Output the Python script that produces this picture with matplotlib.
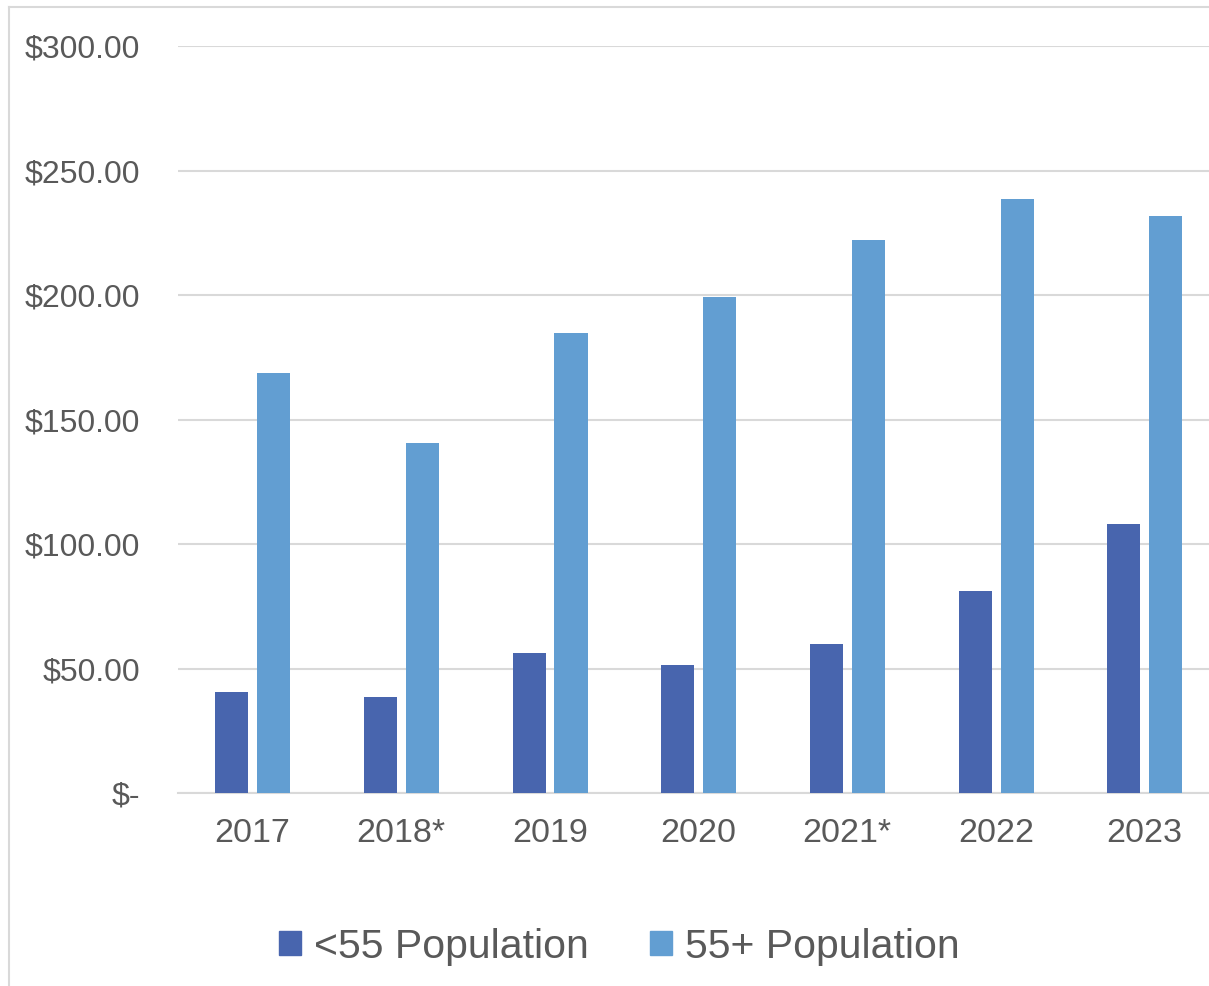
import matplotlib.pyplot as plt
import matplotlib.patches
import matplotlib.lines
import numpy as np

years = ['2017', '2018*', '2019', '2020', '2021*', '2022', '2023']
under_55 = [40.6, 38.6, 56.2, 51.4, 59.8, 81.1, 108.0]
over_55 = [168.7, 140.6, 184.7, 199.2, 222.1, 238.6, 231.7]
y_ticks = [0, 50, 100, 150, 200, 250, 300]
y_labels = ['$-', '$50.00', '$100.00', '$150.00', '$200.00', '$250.00', '$300.00']
series_names = ['<55 Population', '55+ Population']

dark = '#4865AE'
light = '#629ED2'
grid_col = '#D9D9D9'
text_col = '#595959'

plt.rcParams['font.family'] = ['Liberation Sans', 'DejaVu Sans']

fig = plt.figure(figsize=(12.09, 9.86), dpi=100)
ax = fig.add_axes([0.1472, 0.1957, 0.861, 0.7576])

x = np.arange(len(years))
w = 0.222
ax.bar(x - 0.139, under_55, width=w, color=dark, zorder=3)
ax.bar(x + 0.143, over_55, width=w, color=light, zorder=3)

ax.set_xlim(-0.5, len(years) - 0.5)
ax.set_ylim(0, 300)
ax.set_yticks(y_ticks)
ax.set_yticklabels(y_labels)
ax.set_xticks(x)
ax.set_xticklabels(years)
ax.tick_params(axis='y', length=0, pad=27, labelsize=23, labelcolor=text_col)
ax.tick_params(axis='x', length=0, pad=18, labelsize=24.5, labelcolor=text_col)
ax.grid(axis='y', color=grid_col, lw=1.5, zorder=0)
for s in ['top', 'right', 'left']:
    ax.spines[s].set_visible(False)
ax.spines['bottom'].set_color(grid_col)
ax.spines['bottom'].set_linewidth(1.5)

# chart frame (only left and top edges are inside the picture)
fig.add_artist(matplotlib.lines.Line2D([9/1209, 9/1209], [0, 1 - 7/986], color=grid_col, lw=1.5))
fig.add_artist(matplotlib.lines.Line2D([9/1209, 1], [1 - 7/986, 1 - 7/986], color=grid_col, lw=1.5))

handles = [matplotlib.patches.Patch(color=dark), matplotlib.patches.Patch(color=light)]
fig.legend(handles, series_names, loc='center', bbox_to_anchor=(0.512, 0.040), ncol=2,
           frameon=False, fontsize=29.5, labelcolor=text_col, handlelength=0.55,
           handleheight=0.55, handletextpad=0.3, columnspacing=1.5)

fig.savefig('out.png', dpi=100)
